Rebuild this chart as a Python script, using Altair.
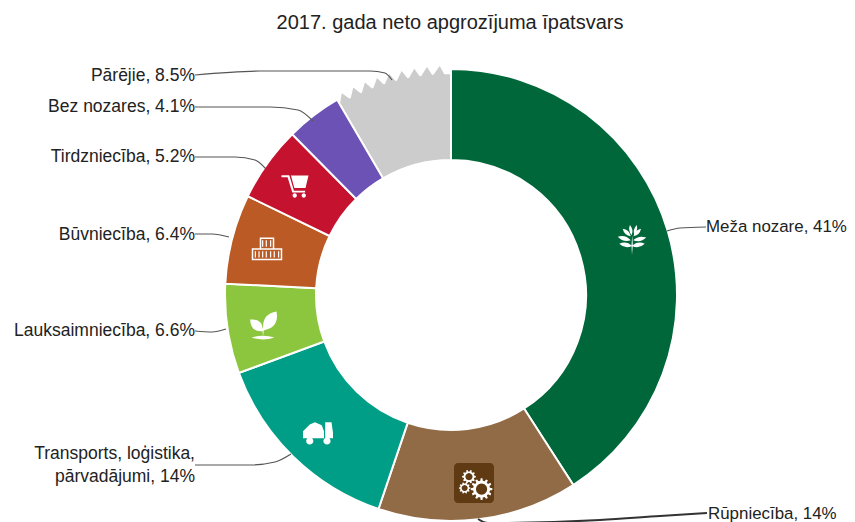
import math
import altair as alt
import pandas as pd

TITLE = "2017. gada neto apgrozījuma īpatsvars"
CATEGORIES = ["Meža nozare", "Rūpniecība", "Transports, loģistika, pārvadājumi", "Lauksaimniecība",
              "Būvniecība", "Tirdzniecība", "Bez nozares", "Pārējie"]
SHARES = [40.9, 14.3, 14.2, 6.4, 6.4, 5.4, 4.0, 8.4]
COLORS = ["#00673a", "#916b46", "#009e87", "#8cc63f", "#bb5a24", "#c5122f", "#6d52b6", "#cccccc"]

LABEL_TEXT = ["Meža nozare, 41%", "Rūpniecība, 14%", "Transports, loģistika,", "pārvadājumi, 14%",
              "Lauksaimniecība, 6.6%", "Būvniecība, 6.4%", "Tirdzniecība, 5.2%", "Bez nozares, 4.1%", "Pārējie, 8.5%"]
LABEL_X = [706, 708, 195, 195, 195, 195, 195, 195, 195]
LABEL_Y = [227, 514, 454, 477, 331, 235, 157, 107, 76]
LABEL_ALIGN = ["left", "left"] + ["right"] * 7

LEADERS = {
    "Meža": [(667, 231), (680, 228), (706, 227)],
    "Rūp": [(478, 519), (488, 523), (600, 520), (660, 516), (707, 513)],
    "Transp": [(195, 465), (250, 465), (275, 462), (291, 454)],
    "Lauk": [(195, 331), (212, 332), (226, 329)],
    "Būv": [(195, 234), (212, 234), (229, 237)],
    "Tird": [(195, 157), (235, 157), (255, 160), (266, 169)],
    "Bez": [(195, 107), (270, 107), (298, 110), (313, 121)],
    "Pār": [(195, 75), (260, 71), (370, 71), (385, 73), (392, 80)],
}

CENTER = (451, 295)
TEETH_X = [342.3, 353.5, 365, 376.8, 388.8, 401, 413.4, 425.9, 438.4]
TEETH_Y = [97.3, 91.6, 86.4, 82, 78.1, 75, 72.6, 70.8, 69.8]
TEETH_ANGLE = [-28.8, -25.6, -22.4, -19.2, -16, -12.8, -9.6, -6.4, -3.2]

ICON_X = [632, 295, 267, 263, 318]
ICON_Y = [240, 185, 249, 325, 432]


def leaf(x0, y0, x1, y1, w):
    mx, my = (x0 + x1) / 2, (y0 + y1) / 2
    nx, ny = -(y1 - y0) * w, (x1 - x0) * w
    return (f"M{x0:.3f},{y0:.3f}Q{mx+nx:.3f},{my+ny:.3f} {x1:.3f},{y1:.3f}"
            f"Q{mx-nx:.3f},{my-ny:.3f} {x0:.3f},{y0:.3f}Z")


def rect(x0, y0, x1, y1):
    return f"M{x0},{y0}L{x1},{y0}L{x1},{y1}L{x0},{y1}Z"


def disc(cx, cy, r):
    return f"M{cx-r},{cy}A{r},{r} 0 1 1 {cx+r},{cy}A{r},{r} 0 1 1 {cx-r},{cy}Z"


def gear(cx, cy, r, n):
    pts = []
    for i in range(n):
        a = 2 * math.pi * i / n
        for da, rr in [(-0.3, 0.78), (-0.17, 1), (0.17, 1), (0.3, 0.78)]:
            t = a + da * 2 * math.pi / n
            pts.append((cx + r * rr * math.cos(t), cy + r * rr * math.sin(t)))
    p = "M" + "L".join(f"{x:.2f},{y:.2f}" for x, y in pts) + "Z"
    q = [(cx + r * 0.52 * math.cos(-2 * math.pi * i / 24), cy + r * 0.52 * math.sin(-2 * math.pi * i / 24)) for i in range(24)]
    return p + "M" + "L".join(f"{x:.2f},{y:.2f}" for x, y in q) + "Z"


TREE = "".join([
    leaf(0, 1, 0.02, -0.3, 0.07),
    leaf(0, 0.4, -0.85, 0.25, 0.34), leaf(0, 0.4, 0.85, 0.25, 0.34),
    leaf(-0.08, 0.02, -0.95, -0.22, 0.32), leaf(0.08, 0.02, 0.95, -0.16, 0.32),
    leaf(-0.08, -0.25, -0.62, -0.75, 0.34), leaf(0.1, -0.25, 0.6, -0.75, 0.34),
    leaf(-0.02, -0.32, -0.14, -1, 0.3), leaf(0.14, -0.35, 0.32, -1, 0.28),
])
CART = ("M-1,-0.72L-0.42,-0.72L-0.08,0.42L0.75,0.42L0.75,0.56L-0.2,0.56L-0.55,-0.58L-1,-0.58Z"
        "M-0.3,-0.7L1,-0.7L0.78,0.22L-0.05,0.22Z" + disc(-0.02, 0.78, 0.16) + disc(0.65, 0.78, 0.16))
BRICKS = (rect(-0.45, -0.75, 0.45, 0) + rect(-1, 0, 1, 0.72))
BRICK_LINES = ("M-0.3,-0.6L-0.3,-0.15M-0.05,-0.6L-0.05,-0.15M0.25,-0.6L0.25,-0.15"
               "M-0.8,0.15L-0.8,0.58M-0.55,0.15L-0.55,0.58M-0.3,0.15L-0.3,0.58M-0.05,0.15L-0.05,0.58"
               "M0.25,0.15L0.25,0.58M0.5,0.15L0.5,0.58M0.8,0.15L0.8,0.58")
PLANT = (leaf(0.0, 0.45, -0.95, -0.4, 0.55) + leaf(0.05, 0.4, 1, -1, 0.5) + leaf(0, 0.8, 0.02, 0.1, 0.1)
         + leaf(-0.85, 0.93, 0.85, 0.93, 0.16))
TRUCK = ("M-1,-0.05L-0.55,-0.5L-0.2,-0.65L0.25,-0.45L0.4,-0.05L0.4,0.42L-1,0.42Z"
         "M0.48,-0.65L0.9,-0.65L1,0.05L1,0.42L0.48,0.42Z" + disc(-0.55, 0.6, 0.24) + disc(0.6, 0.6, 0.24))
GEARS = gear(0.42, 0.34, 0.6, 12) + gear(-0.28, -0.35, 0.38, 10) + gear(-0.52, 0.28, 0.32, 10)

sx = alt.Scale(domain=[8, 847], range=[0, 839], nice=False, zero=False)
sy = alt.Scale(domain=[8, 522], range=[0, 514], nice=False, zero=False)
X = lambda f: alt.X(f, type="quantitative", scale=sx, axis=None)
Y = lambda f: alt.Y(f, type="quantitative", scale=sy, axis=None)

starts, acc = [], 0
for s in SHARES:
    starts.append(acc)
    acc += s
sectors = pd.DataFrame({"cat": CATEGORIES, "start": starts, "end": [a + b for a, b in zip(starts, SHARES)], "o": range(8)})

cx, cy = alt.value(CENTER[0] - 8), alt.value(CENTER[1] - 8)
theta_scale = alt.Scale(domain=[0, acc], range=[0, 2 * math.pi])
color = alt.Color("cat:N", scale=alt.Scale(domain=CATEGORIES, range=COLORS), legend=None)


def arc_layer(radius, pred):
    return alt.Chart(sectors).transform_filter(pred).mark_arc(
        radius=radius, radius2=135, stroke="white", strokeWidth=2
    ).encode(theta=alt.Theta("start:Q", scale=theta_scale), theta2="end:Q", color=color, x=cx, y=cy)


grey_arc = arc_layer(222, "datum.o == 7")
main_arcs = arc_layer(226, "datum.o < 7")

teeth_df = pd.DataFrame({"x": TEETH_X, "y": TEETH_Y, "a": [a % 360 for a in TEETH_ANGLE]})
teeth = alt.Chart(teeth_df).mark_point(
    shape="M-1.05,1L0.25,-0.62L1.05,1Z", size=144, filled=True, fill="#cccccc", opacity=1, strokeWidth=0
).encode(x=X("x"), y=Y("y"), angle=alt.Angle("a:Q", scale=None))

leader_rows = [{"k": k, "i": i, "x": x, "y": y} for k, pts in LEADERS.items() for i, (x, y) in enumerate(pts)]
leader_df = pd.DataFrame(leader_rows)
leaders = alt.Chart(leader_df).transform_filter("datum.k != 'Rūp'").mark_line(
    color="#555555", strokeWidth=1.2, interpolate="monotone"
).encode(x=X("x"), y=Y("y"), detail="k:N", order="i:Q")
leader_r = alt.Chart(leader_df).transform_filter("datum.k == 'Rūp'").mark_line(
    color="#333333", strokeWidth=2, interpolate="monotone"
).encode(x=X("x"), y=Y("y"), order="i:Q")

labels = alt.Chart(pd.DataFrame({"t": LABEL_TEXT, "x": LABEL_X, "y": LABEL_Y, "al": LABEL_ALIGN}))
FONT = "Liberation Sans"
lab_l = labels.transform_filter("datum.al == 'left'").mark_text(
    align="left", baseline="middle", font=FONT, fontSize=16.9, color="#222222").encode(x=X("x"), y=Y("y"), text="t:N")
lab_r = labels.transform_filter("datum.al == 'right'").mark_text(
    align="right", baseline="middle", font=FONT, fontSize=17.5, color="#222222").encode(x=X("x"), y=Y("y"), text="t:N")

title = alt.Chart(pd.DataFrame({"t": [TITLE], "x": [450], "y": [23]})).mark_text(
    align="center", baseline="middle", font=FONT, fontSize=20, color="#222222").encode(x=X("x"), y=Y("y"), text="t:N")

icon_src = pd.DataFrame({"x": ICON_X, "y": ICON_Y})


def icon(row, path, size, **kw):
    d = icon_src.iloc[[row]]
    return alt.Chart(d).mark_point(shape=path, size=size, opacity=1, **kw).encode(x=X("x"), y=Y("y"))


solid = dict(filled=True, fill="white", strokeWidth=0)
tree = icon(0, TREE, 30 ** 2, **solid)
cart = icon(1, CART, 27 ** 2, **solid)
bricks = icon(2, BRICKS, 29 ** 2, filled=False, stroke="white", strokeWidth=1.5)
brick_lines = icon(2, BRICK_LINES, 29 ** 2, filled=False, stroke="white", strokeWidth=1.2)
plant = icon(3, PLANT, 27 ** 2, **solid)
truck = icon(4, TRUCK, 30 ** 2, **solid)

gear_box = alt.Chart(pd.DataFrame({"x": [454], "x2": [494], "y": [463], "y2": [503]})).mark_rect(
    color="#5f3a12", cornerRadius=4
).encode(x=X("x"), x2="x2:Q", y=Y("y"), y2="y2:Q")
gears = alt.Chart(pd.DataFrame({"x": [474], "y": [483]})).mark_point(
    shape=GEARS, size=36 ** 2, opacity=1, filled=True, fill="white", strokeWidth=0
).encode(x=X("x"), y=Y("y"))

chart = alt.layer(
    grey_arc, teeth, main_arcs, leaders, leader_r, tree, cart, bricks, brick_lines, plant, truck, gear_box, gears,
    lab_l, lab_r, title
).properties(width=839, height=514, padding=0, autosize=alt.AutoSizeParams(type="none")
).configure_view(stroke=None)

chart.save("out.html", embed_options={"renderer": "svg", "actions": False})
